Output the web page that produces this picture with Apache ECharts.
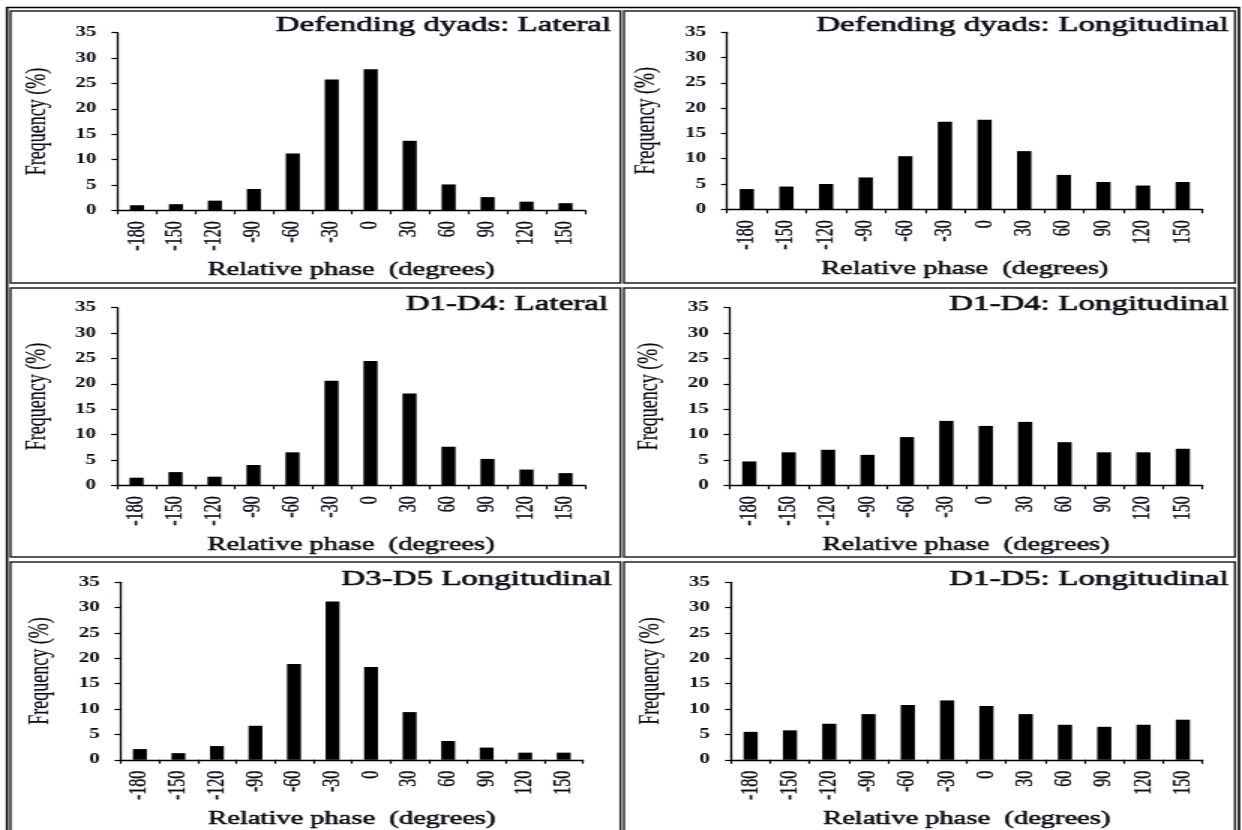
<!DOCTYPE html>
<html>
<head>
<meta charset="utf-8">
<script src="https://cdn.jsdelivr.net/npm/echarts@6/dist/echarts.min.js"></script>
<style>
  html, body { margin: 0; padding: 0; background: #fff; overflow: hidden; }
  #wrap { width: 1242px; height: 830px; overflow: hidden; }
  /* the source figure is stretched sideways, so draw narrow and stretch */
  #chart { height: 830px; transform-origin: 0 0; }
</style>
</head>
<body>
<div id="wrap"><div id="chart"></div></div>
<script>
const phases = ['-180', '-150', '-120', '-90', '-60', '-30', '0', '30', '60', '90', '120', '150']
const yTicks = [0, 35, 5]

const defLateral = [1.0, 1.2, 1.9, 4.2, 11.2, 25.8, 27.8, 13.7, 5.1, 2.6, 1.7, 1.4]
const defLongitudinal = [4.0, 4.5, 5.0, 6.3, 10.5, 17.3, 17.7, 11.5, 6.8, 5.4, 4.7, 5.4]
const d1d4Lateral = [1.5, 2.6, 1.7, 4.0, 6.5, 20.6, 24.5, 18.1, 7.6, 5.2, 3.1, 2.4]
const d1d4Longitudinal = [4.7, 6.5, 7.0, 6.0, 9.5, 12.7, 11.7, 12.5, 8.5, 6.5, 6.5, 7.2]
const d3d5Longitudinal = [2.1, 1.3, 2.7, 6.7, 18.9, 31.2, 18.3, 9.4, 3.7, 2.4, 1.4, 1.4]
const d1d5Longitudinal = [5.5, 5.8, 7.1, 9.0, 10.8, 11.7, 10.6, 9.0, 6.9, 6.5, 6.9, 7.9]

const titles = [
  'Defending dyads: Lateral', 'Defending dyads: Longitudinal',
  'D1-D4: Lateral', 'D1-D4: Longitudinal',
  'D3-D5 Longitudinal', 'D1-D5: Longitudinal'
]
const seriesData = [defLateral, defLongitudinal, d1d4Lateral, d1d4Longitudinal, d3d5Longitudinal, d1d5Longitudinal]

const S = 1.5
const W = 1242
const el = document.getElementById('chart')
el.style.width = (W / S) + 'px'
el.style.transform = 'scaleX(' + S + ')'

const FONT = '"Liberation Serif", "Times New Roman", serif'
const INK = '#0a0a14'

// plot areas in page pixels: left, right, top, bottom
const plots = [
  [117.5, 585, 32.7, 210.3], [727, 1202.5, 32.3, 209.3],
  [117, 585, 307.7, 485.3], [729.6, 1202.5, 307.7, 485.3],
  [120.6, 583, 582.3, 761.7], [731, 1202.5, 582.3, 760.3]
]
// title right edge and top
const titlePos = [
  [612, 14], [1229.6, 14],
  [609, 293], [1229.6, 293],
  [612.6, 568], [1229.6, 568]
]
// panel frames: x0, x1, y0, y1
const cols = [[10.5, 620.5], [624, 1235]]
const rows = [[11, 283], [288, 557], [562, 900]]

const grid = []
const xAxis = []
const yAxis = []
const series = []
const title = []
const graphic = []

graphic.push({
  type: 'rect',
  shape: { x: 7 / S, y: 7.5, width: (1239 - 7) / S, height: 900 },
  style: { fill: 'none', stroke: '#000', lineWidth: 1.6 },
  silent: true
})
rows.forEach(r => {
  cols.forEach(c => {
    graphic.push({
      type: 'rect',
      shape: { x: c[0] / S, y: r[0], width: (c[1] - c[0]) / S, height: r[1] - r[0] },
      style: { fill: 'none', stroke: '#222', lineWidth: 1.4 },
      silent: true
    })
  })
})

plots.forEach((p, i) => {
  grid.push({
    left: p[0] / S,
    width: (p[1] - p[0]) / S,
    top: p[2],
    height: p[3] - p[2]
  })
  xAxis.push({
    type: 'category',
    gridIndex: i,
    data: phases,
    boundaryGap: true,
    name: 'Relative phase  (degrees)',
    nameLocation: 'middle',
    nameGap: 50,
    nameTextStyle: { fontFamily: FONT, fontSize: 19, color: INK, textBorderColor: INK, textBorderWidth: 0.5 },
    axisLine: { lineStyle: { color: '#000', width: 1.3 } },
    axisTick: { show: true, length: 4, lineStyle: { color: '#000', width: 1.2 } },
    axisLabel: {
      rotate: 90, margin: 11, fontFamily: FONT, fontSize: 16, color: INK,
      textBorderColor: INK, textBorderWidth: 0.3, interval: 0
    },
    splitLine: { show: false }
  })
  yAxis.push({
    type: 'value',
    gridIndex: i,
    min: yTicks[0],
    max: yTicks[1],
    interval: yTicks[2],
    name: 'Frequency (%)',
    nameLocation: 'middle',
    nameRotate: 90,
    nameGap: 44,
    nameTextStyle: { fontFamily: FONT, fontSize: 18, color: INK, textBorderColor: INK, textBorderWidth: 0.2 },
    axisLine: { show: true, lineStyle: { color: '#000', width: 1.3 } },
    axisTick: { show: true, length: 4, lineStyle: { color: '#000', width: 1.2 } },
    axisLabel: { margin: 14, fontFamily: FONT, fontSize: 14, fontWeight: 'bold', color: INK },
    splitLine: { show: false }
  })
  series.push({
    type: 'bar',
    xAxisIndex: i,
    yAxisIndex: i,
    data: seriesData[i],
    barWidth: '36%',
    itemStyle: { color: '#000' },
    animation: false
  })
  title.push({
    text: titles[i],
    right: (W - titlePos[i][0]) / S,
    top: titlePos[i][1],
    padding: 0,
    textStyle: {
      fontFamily: FONT, fontSize: 22, fontWeight: 'normal', color: INK,
      textBorderColor: INK, textBorderWidth: 0.6
    }
  })
})

const chart = echarts.init(el)
chart.setOption({
  animation: false,
  backgroundColor: '#fff',
  title,
  grid,
  xAxis,
  yAxis,
  series,
  graphic
})
</script>
</body>
</html>
